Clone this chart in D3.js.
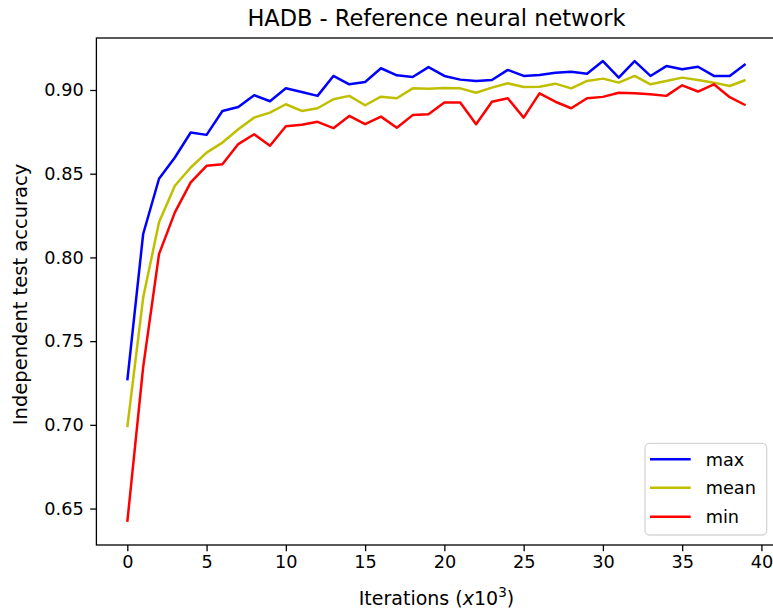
<!DOCTYPE html>
<html>
<head>
<meta charset="utf-8">
<script src="https://cdn.jsdelivr.net/npm/d3@7"></script>
<style>
  html, body { margin: 0; padding: 0; background: #fff; }
  svg { display: block; font-family: "DejaVu Sans", sans-serif; }
</style>
</head>
<body>
<svg id="chart" width="773" height="612"></svg>
<script>
// ---- data ----
const iterations = d3.range(0, 40); // x10^3
const maxAcc = [0.7265, 0.814, 0.847, 0.8597, 0.8746, 0.8732, 0.8875, 0.8899, 0.8969, 0.8933,
  0.901, 0.8988, 0.8965, 0.9084, 0.9034, 0.9048, 0.913, 0.9088, 0.9078, 0.9137,
  0.9084, 0.9062, 0.9054, 0.906, 0.912, 0.9084, 0.909, 0.9103, 0.9109, 0.9097,
  0.9173, 0.9074, 0.9173, 0.9084, 0.9143, 0.9124, 0.9139, 0.9084, 0.9084, 0.9155];
const meanAcc = [0.6987, 0.776, 0.821, 0.8428, 0.8537, 0.8626, 0.8686, 0.8766, 0.8835, 0.8865,
  0.8915, 0.8875, 0.8891, 0.8945, 0.8965, 0.8909, 0.896, 0.8951, 0.901, 0.9008,
  0.9012, 0.901, 0.8984, 0.9014, 0.904, 0.9018, 0.902, 0.9038, 0.901, 0.9054,
  0.9068, 0.9044, 0.9084, 0.9034, 0.9054, 0.9074, 0.906, 0.9044, 0.9024, 0.906];
const minAcc = [0.642, 0.7345, 0.802, 0.8269, 0.8448, 0.8547, 0.8557, 0.8677, 0.8736, 0.8667,
  0.8784, 0.8792, 0.881, 0.8772, 0.8845, 0.8796, 0.8841, 0.8775, 0.885, 0.8855,
  0.8925, 0.8925, 0.8796, 0.893, 0.8951, 0.8835, 0.898, 0.893, 0.8891, 0.8951,
  0.8959, 0.8984, 0.898, 0.8975, 0.8965, 0.9028, 0.8991, 0.9034, 0.8957, 0.8909];
const seriesNames = ["max", "mean", "min"];
const seriesColors = ["#0000ff", "#bfbf00", "#ff0000"];
const xTicks = [0, 5, 10, 15, 20, 25, 30, 35, 40];
const yTicks = [0.65, 0.70, 0.75, 0.80, 0.85, 0.90];

const series = [maxAcc, meanAcc, minAcc];

// ---- layout ----
const svg = d3.select("#chart");
const L = 96.4, R = 776.5, T = 38, B = 545;

const all = series.flat();
const yMin = d3.min(all), yMax = d3.max(all);
const yPad = (yMax - yMin) * 0.05;
const xPad = (d3.max(iterations) - d3.min(iterations)) * 0.05;

const x = d3.scaleLinear().domain([d3.min(iterations) - xPad, d3.max(iterations) + xPad]).range([L, R]);
const y = d3.scaleLinear().domain([yMin - yPad, yMax + yPad]).range([B, T]);

// lines
const line = d3.line().x((d, i) => x(iterations[i])).y(d => y(d));
const plot = svg.append("g");
series.forEach((s, k) => {
  plot.append("path")
    .datum(s)
    .attr("fill", "none")
    .attr("stroke", seriesColors[k])
    .attr("stroke-width", 2.5)
    .attr("stroke-linejoin", "round")
    .attr("stroke-linecap", "butt")
    .attr("d", line);
});

// axes
const xAxis = d3.axisBottom(x).tickValues(xTicks).tickFormat(d3.format("d")).tickSize(6.2).tickPadding(4.5);
const yAxis = d3.axisLeft(y).tickValues(yTicks).tickFormat(d3.format(".2f")).tickSize(6.2).tickPadding(6.5);

const gx = svg.append("g").attr("transform", `translate(0,${B})`).call(xAxis);
const gy = svg.append("g").attr("transform", `translate(${L},0)`).call(yAxis);
[gx, gy].forEach(g => {
  g.select(".domain").remove();
  g.selectAll(".tick line").attr("stroke", "#000").attr("stroke-width", 1.3);
  g.selectAll(".tick text").attr("fill", "#000").style("font-size", "17.7px").style("font-family", "DejaVu Sans");
});

// spines
svg.append("rect")
  .attr("x", L).attr("y", T).attr("width", R - L).attr("height", B - T)
  .attr("fill", "none").attr("stroke", "#000").attr("stroke-width", 1.3);

// title
svg.append("text")
  .attr("x", (L + R) / 2).attr("y", 26)
  .attr("text-anchor", "middle")
  .style("font-size", "22.5px").attr("fill", "#000")
  .text("HADB - Reference neural network");

// y label
svg.append("text")
  .attr("transform", `translate(26.5,${(T + B) / 2 + 3}) rotate(-90)`)
  .attr("text-anchor", "middle")
  .style("font-size", "19.5px").attr("fill", "#000")
  .text("Independent test accuracy");

// x label with mathtext-like tspans
const xl = svg.append("text")
  .attr("x", (L + R) / 2).attr("y", 605)
  .attr("text-anchor", "middle")
  .style("font-size", "19px").attr("fill", "#000");
xl.append("tspan").text("Iterations (");
xl.append("tspan").style("font-style", "italic").text("x");
xl.append("tspan").text("10");
xl.append("tspan").attr("dy", -8).style("font-size", "13.5px").text("3");
xl.append("tspan").attr("dy", 8).text(")");

// legend
const lg = svg.append("g");
lg.append("rect")
  .attr("x", 645).attr("y", 443.3).attr("width", 121.7).attr("height", 91.7)
  .attr("rx", 4.5).attr("ry", 4.5)
  .attr("fill", "#fff").attr("fill-opacity", 0.8)
  .attr("stroke", "#d6d6d6").attr("stroke-width", 1.3);
const legendY = [459.3, 487.7, 516.7];
seriesNames.forEach((n, k) => {
  lg.append("line")
    .attr("x1", 650).attr("x2", 690.7)
    .attr("y1", legendY[k]).attr("y2", legendY[k])
    .attr("stroke", seriesColors[k]).attr("stroke-width", 2.5);
  lg.append("text")
    .attr("x", 705.7).attr("y", legendY[k] + 6.3)
    .style("font-size", "17.7px").attr("fill", "#000")
    .text(n);
});
</script>
</body>
</html>
